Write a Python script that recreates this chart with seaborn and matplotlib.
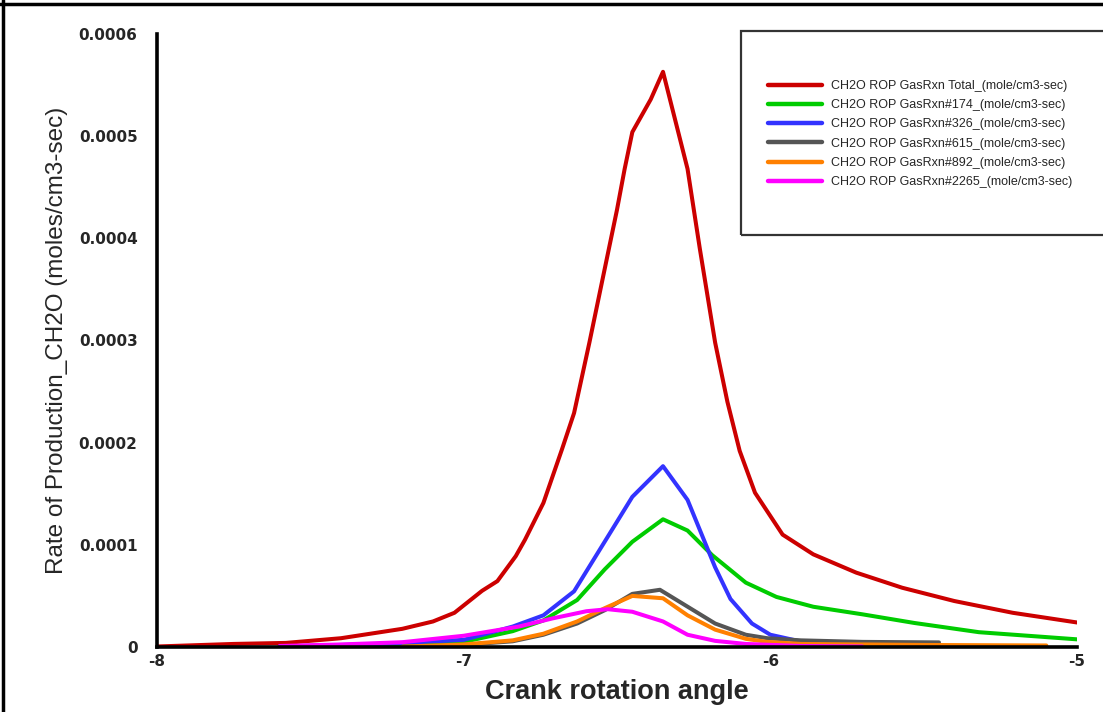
import numpy as np
import pandas as pd
import matplotlib
matplotlib.use("Agg")
import matplotlib.pyplot as plt
import seaborn as sns
from matplotlib.lines import Line2D
from matplotlib.patches import Rectangle
from matplotlib.ticker import MultipleLocator, FixedLocator, FixedFormatter

# ---------------- data ----------------
x_total = [-8.0, -7.75, -7.58, -7.40, -7.20, -7.10, -7.03, -6.94, -6.89, -6.83, -6.80,
           -6.74, -6.68, -6.64, -6.59, -6.545, -6.50, -6.475, -6.45, -6.39, -6.35, -6.27,
           -6.23, -6.18, -6.14, -6.10, -6.05, -5.96, -5.86, -5.72, -5.57, -5.40, -5.21, -5.0]
y_total = [0.005, 0.03, 0.04, 0.086, 0.178, 0.25, 0.335, 0.55, 0.645, 0.89, 1.05,
           1.41, 1.93, 2.29, 2.98, 3.63, 4.28, 4.68, 5.04, 5.36, 5.63, 4.68,
           3.90, 2.98, 2.40, 1.92, 1.51, 1.10, 0.907, 0.728, 0.58, 0.45, 0.335, 0.24]

x_174 = [-7.6, -7.27, -7.0, -6.84, -6.74, -6.63, -6.54, -6.45, -6.35, -6.27, -6.19,
         -6.08, -5.98, -5.86, -5.70, -5.53, -5.32, -5.0]
y_174 = [0.005, 0.025, 0.05, 0.155, 0.26, 0.46, 0.76, 1.03, 1.25, 1.14, 0.90,
         0.63, 0.49, 0.394, 0.32, 0.235, 0.145, 0.075]

x_326 = [-7.6, -7.27, -7.0, -6.84, -6.74, -6.64, -6.53, -6.45, -6.35, -6.27, -6.18,
         -6.13, -6.06, -6.00, -5.91, -5.85]
y_326 = [0.005, 0.03, 0.07, 0.20, 0.31, 0.545, 1.08, 1.47, 1.77, 1.44, 0.78,
         0.47, 0.23, 0.12, 0.06, 0.03]

x_615 = [-7.2, -7.0, -6.84, -6.74, -6.63, -6.54, -6.45, -6.36, -6.27, -6.18, -6.08,
         -6.01, -5.9, -5.7, -5.45]
y_615 = [0.003, 0.02, 0.056, 0.12, 0.23, 0.36, 0.52, 0.56, 0.395, 0.23, 0.12,
         0.086, 0.065, 0.05, 0.045]

x_892 = [-7.2, -7.0, -6.84, -6.74, -6.63, -6.54, -6.45, -6.35, -6.27, -6.18, -6.08,
         -6.01, -5.9, -5.5, -5.1]
y_892 = [0.003, 0.025, 0.065, 0.13, 0.25, 0.38, 0.50, 0.477, 0.31, 0.17, 0.08,
         0.05, 0.03, 0.02, 0.015]

x_2265 = [-7.6, -7.4, -7.2, -7.0, -6.82, -6.71, -6.60, -6.53, -6.45, -6.35, -6.27,
          -6.18, -6.08, -5.9, -5.7]
y_2265 = [0.01, 0.025, 0.047, 0.11, 0.20, 0.28, 0.35, 0.37, 0.345, 0.25, 0.12,
          0.06, 0.03, 0.01, 0.005]

labels = ["CH2O ROP GasRxn Total_(mole/cm3-sec)",
          "CH2O ROP GasRxn#174_(mole/cm3-sec)",
          "CH2O ROP GasRxn#326_(mole/cm3-sec)",
          "CH2O ROP GasRxn#615_(mole/cm3-sec)",
          "CH2O ROP GasRxn#892_(mole/cm3-sec)",
          "CH2O ROP GasRxn#2265_(mole/cm3-sec)"]
colors = ["#cc0000", "#00cc00", "#3333ff", "#555555", "#ff8000", "#ff00ff"]
y_scale = 1e-4

x_ticks = [-8, -7, -6, -5]
x_ticklabels = ["-8", "-7", "-6", "-5"]
y_ticks = [0, 0.0001, 0.0002, 0.0003, 0.0004, 0.0005, 0.0006]
y_ticklabels = ["0", "0.0001", "0.0002", "0.0003", "0.0004", "0.0005", "0.0006"]

# ---------------- build frame ----------------
series = [(x_total, y_total), (x_174, y_174), (x_326, y_326),
          (x_615, y_615), (x_892, y_892), (x_2265, y_2265)]
frames = []
for lab, (xs, ys) in zip(labels, series):
    frames.append(pd.DataFrame({"angle": xs,
                                "rop": np.array(ys) * y_scale,
                                "series": lab}))
df = pd.concat(frames, ignore_index=True)

sns.set_style("white")
plt.rcParams["axes.unicode_minus"] = False
plt.rcParams["font.family"] = ["Liberation Sans", "DejaVu Sans"]

W, H = 1103, 712
fig = plt.figure(figsize=(W / 100, H / 100), dpi=100)
ax = fig.add_axes([157 / W, 1 - 647 / H, (1077 - 157) / W, (647 - 34) / H])

sns.lineplot(data=df, x="angle", y="rop", hue="series", hue_order=labels,
             palette=dict(zip(labels, colors)), estimator=None, sort=False,
             linewidth=2.9, ax=ax, legend=False, zorder=3)

ax.set_xlim(-8, -5)
ax.set_ylim(0, 0.0006)

for s in ["top", "right"]:
    ax.spines[s].set_visible(False)
for s in ["left", "bottom"]:
    ax.spines[s].set_linewidth(2.6)
    ax.spines[s].set_color("black")
    ax.spines[s].set_zorder(5)

ax.xaxis.set_major_locator(FixedLocator(x_ticks))
ax.xaxis.set_major_formatter(FixedFormatter(x_ticklabels))
ax.xaxis.set_minor_locator(MultipleLocator(0.2))
ax.yaxis.set_major_locator(FixedLocator(y_ticks))
ax.yaxis.set_major_formatter(FixedFormatter(y_ticklabels))
ax.yaxis.set_minor_locator(MultipleLocator(0.00002))

ax.tick_params(axis="both", which="minor", direction="in", length=7, width=1.2,
               color="black")
ax.tick_params(axis="x", which="major", direction="in", length=11, width=3.4,
               color="black", pad=5)
ax.tick_params(axis="y", which="major", direction="in", length=13, width=2.4,
               color="black", pad=14)
for lab in ax.get_xticklabels() + ax.get_yticklabels():
    lab.set_fontfamily("DejaVu Sans")
    lab.set_fontweight("bold")
    lab.set_fontsize(11)

ax.set_xlabel("Crank rotation angle", fontsize=19.5, fontweight="bold",
              labelpad=7)
ax.set_ylabel("Rate of Production_CH2O (moles/cm3-sec)", fontsize=17.5,
              labelpad=8)
ax.grid(False)

# legend box (runs off the right edge as in the reference)
rect = Rectangle((741 / W, 1 - 235 / H), (1120 - 741) / W, (235 - 31) / H,
                 transform=fig.transFigure, fill=False, edgecolor="#333333",
                 linewidth=1.6, clip_on=False)
fig.patches.append(rect)

handles = [Line2D([0], [0], color=c, linewidth=3.2) for c in colors]
leg = fig.legend(handles, labels, loc="upper left",
                 bbox_to_anchor=(768 / W, 1 - 80 / H),
                 bbox_transform=fig.transFigure, frameon=False,
                 fontsize=9, handlelength=4.3, handletextpad=0.75,
                 labelspacing=0.58, borderpad=0, borderaxespad=0)

# figure border (top and left edges visible in the reference)
fig.add_artist(Line2D([0, 1], [1 - 4 / H, 1 - 4 / H], transform=fig.transFigure,
                      color="black", linewidth=2.5))
fig.add_artist(Line2D([3 / W, 3 / W], [0, 1], transform=fig.transFigure,
                      color="black", linewidth=2.5))

fig.savefig("out.png", dpi=100)
